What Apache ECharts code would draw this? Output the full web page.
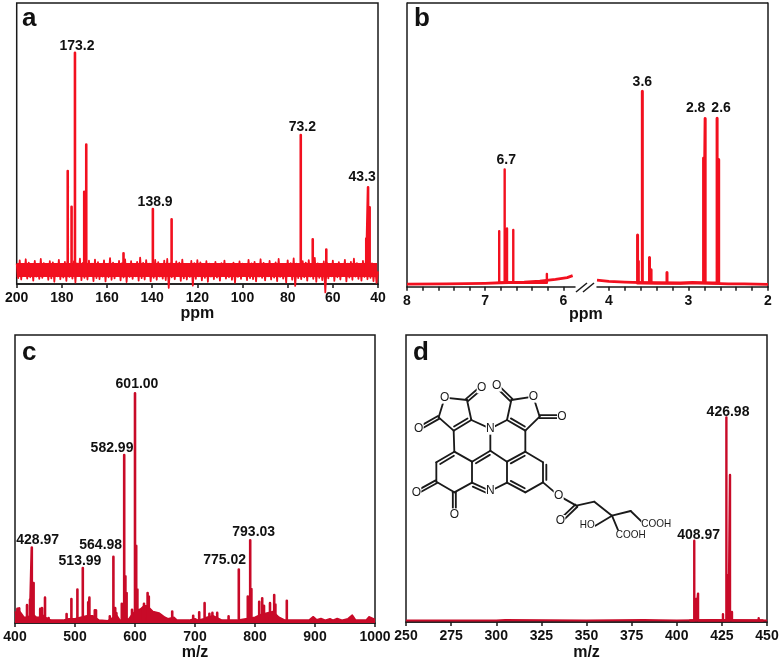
<!DOCTYPE html>
<html>
<head>
<meta charset="utf-8">
<style>
  html, body { margin: 0; padding: 0; background: #fff; }
  #main { width: 784px; height: 660px; }
</style>
<script src="https://cdn.jsdelivr.net/npm/echarts@6/dist/echarts.min.js"></script>
</head>
<body>
<div id="main"></div>
<script>
// panel a: 13C NMR, intensities in % of panel height
const aPeakPpm = [177.4, 175.7, 174.2, 170.1, 169.2, 152.7, 139.7, 131.4, 74.2, 68.9, 62.9, 45.2, 44.4, 43.7];
const aPeakH = [40.2, 27.5, 82.3, 32.8, 49.6, 10.9, 26.7, 23, 53, 15.9, 12.3, 16.2, 34.4, 27.3];
const aNoise = [
  7.2, 2.1, 8.4, 1.6, 6.9, 2.8, 8.8, 1.9, 7.6, 2.4, 6.8, 1.2,
  8.2, 2.6, 7.1, 1.8, 8.9, 2.2, 7.4, 3.0, 6.7, 1.5, 8.1, 2.0,
  7.7, 0.8, 7.0, 2.7, 8.6, 1.7, 6.6, 2.3, 7.9, 1.1, 8.5, 2.5,
  6.9, 1.9, 8.0, 0.6, 7.3, 2.8, 9.0, 1.4, 7.5, 2.2, 6.8, 1.6,
  8.3, 2.9, 7.2, 1.0, 8.7, 2.1, 7.8, 1.7, 6.7, 2.6, 8.4, 0.9,
  7.1, 2.4, 9.2, 1.5, 7.6, 2.0, 6.9, 2.9, 8.2, 1.3, 7.4, 2.3,
  8.8, 0.7, 7.0, 2.5, 8.1, 1.8, 6.8, 2.7, 7.9, 1.2, 9.4, 2.1,
  7.5, 1.6, 8.5, 2.8, 7.2, 0.9, 6.7, 2.2, 8.6, 1.5, 7.8, 2.6,
  7.0, 1.9, 8.3, 1.4, 8.9, -1.4, 7.3, 2.4, 6.8, 1.7, 8.0, 2.9,
  7.6, 1.1, 8.7, 2.0, 7.1, 1.6, 6.9, 2.5, 8.2, -0.6, 7.4, 1.8,
  8.5, 2.7, 7.7, 1.3, 6.6, 2.2, 8.1, 0.8, 7.2, 2.6, 6.9, 1.7,
  7.9, 2.3, 6.7, 1.2, 7.4, 2.8, 8.3, 1.9, 7.0, 2.4, 6.5, 1.5,
  7.6, 0.5, 6.9, 2.5, 8.0, 1.8, 7.2, 2.9, 6.6, 1.4, 8.6, 2.1,
  7.3, 1.7, 7.9, 0.9, 6.8, 2.6, 8.8, 2.2, 7.5, 1.3, 7.0, 2.7,
  8.2, 1.6, 6.7, 2.3, 7.7, 1.0, 8.9, 2.5, 7.1, 1.9, 6.9, 0.6,
  8.4, 2.8, 7.4, 1.5, 9.1, -0.7, 7.2, 2.1, 6.8, 1.7, 8.1, 2.4,
  7.6, 1.2, 8.5, 2.6, 7.0, 1.8, 9.3, 0.8, 7.3, 2.2, 6.6, 1.4,
  8.0, -3.0, 7.5, 2.0, 6.9, 2.7, 8.3, 1.1, 7.1, 2.4, 7.8, 1.6,
  6.7, 2.9, 8.6, 0.9, 7.2, 2.3, 7.9, 1.5, 9.0, 2.6, 7.4, 1.8,
  7.0, 1.2, 8.2, 2.5, 8.8, 1.7, 7.6, 2.2, 7.3, 1.0, 6.8, 0.4, 4.5
];
// solid body of the noise band
const aBandPpm = [200, 160, 120, 80, 40.4];
const aBandH = [5, 5, 5, 5, 5];
const aLabels = [["173.2", 173.3, 84.6], ["138.9", 138.7, 29.1], ["73.2", 73.5, 55.7], ["43.3", 47.0, 38.2]];
const aTicks = [40, 60, 80, 100, 120, 140, 160, 180, 200];

// panel b: 1H NMR, two pieces either side of the axis break
const bLeftPeakPpm = [6.82, 6.75, 6.72, 6.64, 6.21];
const bLeftPeakH = [19.6, 41.3, 20.5, 20, 4.5];
const bLeftBasePpm = [8, 7.5, 7, 6.8, 6.5, 6.3, 6.1, 5.95, 5.88];
const bLeftBaseH = [0.9, 1, 1.2, 1.4, 1.6, 2, 2.6, 3.2, 3.9];
const bRightPeakPpm = [3.64, 3.63, 3.58, 3.49, 3.47, 3.27, 2.81, 2.79, 2.64, 2.62];
const bRightPeakH = [18.2, 9, 68.9, 10.3, 6, 5, 45.4, 59.3, 59.4, 44.8];
const bRightBasePpm = [4.15, 4, 3.8, 3.7, 3.4, 3.1, 2.95, 2.7, 2.5, 2.3, 2];
const bRightBaseH = [2.3, 1.9, 1.6, 1.5, 1.3, 1.2, 1.5, 1.2, 1, 1, 0.8];
const bLabels = [["6.7", 6.73, 44.6]];
const bRightLabels = [["3.6", 3.58, 72.1], ["2.8", 2.91, 63.1], ["2.6", 2.59, 63.1]];
const bLeftTicks = [8, 7.8, 7.6, 7.4, 7.2, 7, 6.8, 6.6, 6.4, 6.2, 6];
const bRightTicks = [4, 3.8, 3.6, 3.4, 3.2, 3, 2.8, 2.6, 2.4, 2.2, 2];

// panel c: mass spectrum
const cPeakMz = [404, 407, 420, 425, 428, 431, 442, 445, 450, 456, 486, 494, 504, 513, 522, 524, 533, 535,
  558, 564, 567, 569, 578, 582, 584, 586, 595, 600, 602, 604, 608, 615, 621, 623, 662,
  697, 707, 716, 724, 729, 737, 756, 773, 788, 792, 794, 807, 812, 815, 825, 832, 834, 853];
const cPeakH = [4.9, 5.1, 6.2, 8.1, 26.2, 13.9, 4.9, 5.2, 8.8, 1.7, 3.1, 8.3, 11.6, 19.1, 7.2, 8.8, 4.4, 4.4,
  2.3, 23, 5.2, 3.5, 6.7, 58.3, 16.2, 10.4, 4.6, 79.8, 26.8, 11.6, 4.6, 6.7, 10.4, 9.2, 4,
  2.5, 3.7, 6.9, 3.2, 3.5, 3.5, 2.3, 18.6, 9.2, 28.7, 11.8, 7.4, 8.6, 6, 6.9, 9.7, 6.4, 7.7];
const cEnvMz = [400, 402, 404, 410, 415, 420, 430, 436, 440, 445, 450, 455, 460, 480, 490, 500, 510, 520, 530, 540, 555,
  560, 570, 575, 590, 595, 600, 606, 610, 615, 620, 625, 630, 640, 650, 655, 665, 670, 690, 700, 705, 715, 720, 730, 740,
  745, 770, 785, 800, 810, 820, 830, 840, 850, 860, 890, 897, 903, 910, 917, 925, 930, 937, 945, 955, 962, 968, 985, 990, 1000];
const cEnvH = [4, 3, 5, 3.5, 2, 2, 3, 2, 2, 3, 2, 1.5, 1, 1, 1.5, 1.5, 2, 2.5, 2.5, 1, 0.8,
  1.5, 2.5, 1, 1.5, 3, 4, 4, 5, 6, 6, 5, 4, 3.5, 2, 1.5, 2, 1, 1, 1.5, 1, 1.5, 2, 2.5, 1.5,
  1, 1, 1.5, 2, 3, 3.5, 4, 2, 1, 1, 1, 2.2, 1.1, 1.6, 1, 1.5, 1, 1.6, 1, 1.5, 2.8, 1, 1, 2.2, 1.2];
const cLabels = [["428.97", 437.8, 28.9], ["513.99", 508.3, 21.6], ["564.98", 542.8, 27.1], ["582.99", 561.7, 60.8],
  ["601.00", 603.3, 82.9], ["775.02", 749.4, 21.7], ["793.03", 797.8, 31.6]];

// panel d: mass spectrum
const dPeakMz = [407, 409.7, 410.7, 411.8, 413, 425.6, 427.5, 428.3, 428.8, 429.5, 430.6, 445.4, 448];
const dPeakH = [0.8, 28.3, 8, 9.9, 0.8, 2.7, 71.3, 16.3, 16.3, 51.2, 3.5, 1.3, 0.6];
const dBaseMz = [250, 300, 305, 350, 382, 390, 400, 420, 450];
const dBaseH = [0.5, 0.5, 0.7, 0.5, 0.7, 0.6, 0.5, 0.7, 0.5];
const dLabels = [["426.98", 428.4, 73.1], ["408.97", 412.1, 30.3]];

const ink = "#1a1a1a";
const nmrRed = "#f2101f";
const msRed = "#c80a28";
const font = "'Liberation Sans', Arial, sans-serif";

// one stem per peak, going back down to the baseline
function stems(xs, hs, base) {
  const out = [];
  xs.forEach((x, i) => {
    out.push([x, base], [x, hs[i]], [x, base]);
  });
  return out;
}

function zip(xs, ys) {
  return xs.map((x, i) => [x, ys[i]]);
}

function lineSeries(idx, data, color, width, extra) {
  return Object.assign({
    type: "line",
    xAxisIndex: idx,
    yAxisIndex: idx,
    data: data,
    symbol: "none",
    animation: false,
    silent: true,
    clip: false,
    sampling: "none",
    lineStyle: { color: color, width: width, join: "round" },
  }, extra || {});
}

function labelSeries(idx, labels) {
  return {
    type: "scatter",
    xAxisIndex: idx,
    yAxisIndex: idx,
    symbolSize: 0,
    animation: false,
    silent: true,
    itemStyle: { opacity: 1 },
    data: labels.map((l) => ({ value: [l[1], l[2]], text: l[0] })),
    label: {
      show: true,
      position: "inside",
      formatter: (p) => p.data.text,
      color: "#111",
      opacity: 1,
      fontFamily: font,
      fontWeight: "bold",
      fontSize: 14,
    },
    z: 5,
  };
}

function xAxisBase(idx, opts) {
  return Object.assign({
    gridIndex: idx,
    type: "value",
    splitLine: { show: false },
    axisLine: { show: true, onZero: false, lineStyle: { color: ink, width: 1.5 } },
    axisTick: { show: true, length: 4, lineStyle: { color: ink, width: 1.5 } },
    axisLabel: { color: "#111", fontFamily: font, fontWeight: "bold", fontSize: 14, margin: 7, formatter: (v) => String(v) },
    nameLocation: "middle",
    nameTextStyle: { color: "#111", fontFamily: font, fontWeight: "bold", fontSize: 16 },
  }, opts);
}

function customLabels(values) {
  return { color: "#111", fontFamily: font, fontWeight: "bold", fontSize: 14, margin: 7, customValues: values, formatter: (v) => String(v) };
}

function customTicks(values) {
  return { show: true, length: 4, lineStyle: { color: ink, width: 1.5 }, customValues: values };
}

function yAxisBase(idx, pos) {
  return {
    gridIndex: idx,
    type: "value",
    min: 0,
    max: 100,
    position: pos,
    splitLine: { show: false },
    axisTick: { show: false },
    axisLabel: { show: false },
    axisLine: { show: !!pos, onZero: false, lineStyle: { color: ink, width: 1.5 } },
  };
}

const frame = { show: true, borderColor: ink, borderWidth: 1.5, backgroundColor: "transparent" };

// structure drawn in zoomed units, group scale brings it back to page pixels
const singleBonds = [
  [158, 203, 225, 210], [158, 203, 140, 262], [140, 262, 185, 302], [225, 210, 238, 270],
  [238, 270, 295, 296], [345, 270, 295, 296], [295, 296, 295, 362],
  [424, 200, 358, 210], [424, 200, 443, 260], [358, 210, 345, 270], [400, 302, 443, 260],
  [185, 302, 187, 365], [400, 302, 400, 365], [295, 362, 345, 395],
  [187, 365, 240, 395], [133, 397, 133, 455], [133, 455, 187, 487], [187, 487, 240, 458],
  [240, 458, 240, 395], [295, 483, 345, 458], [345, 458, 345, 395], [400, 365, 453, 397],
  [453, 457, 400, 487], [453, 457, 500, 497], [500, 497, 553, 527], [553, 527, 607, 515],
  [607, 515, 660, 557], [660, 557, 716, 543], [716, 543, 752, 578], [660, 557, 610, 587], [660, 557, 680, 605],
];
// [x1, y1, x2, y2, side]: side 0 is a centred pair (C=O), +-1 has the second line inside the ring
const doubleBonds = [
  [185, 302, 238, 270, -1], [225, 210, 269, 172, 0], [140, 262, 80, 296, 0],
  [345, 270, 400, 302, -1], [358, 210, 314, 167, 0], [443, 260, 510, 260, 0],
  [295, 362, 240, 395, -1], [187, 365, 133, 397, -1], [133, 455, 73, 488, 0], [187, 487, 187, 553, 0],
  [240, 458, 295, 483, 1], [345, 395, 400, 365, 1], [453, 397, 453, 457, -1], [400, 487, 345, 458, 1],
  [553, 527, 505, 573, 0],
];
const atoms = [
  ["O", 158, 203], ["O", 269, 172], ["O", 80, 296], ["N", 295, 296], ["O", 424, 200], ["O", 314, 167],
  ["O", 510, 260], ["O", 73, 488], ["O", 187, 553], ["N", 295, 483], ["O", 500, 497], ["O", 505, 573],
];
const groups = [["HO", 586, 587], ["COOH", 793, 583], ["COOH", 716, 617]];

function bondLine(x1, y1, x2, y2) {
  return {
    type: "line",
    shape: { x1: x1, y1: y1, x2: x2, y2: y2 },
    style: { stroke: ink, lineWidth: 5.5, lineCap: "round" },
    silent: true,
  };
}

function moleculeChildren() {
  const kids = singleBonds.map((b) => bondLine(b[0], b[1], b[2], b[3]));
  doubleBonds.forEach((b) => {
    const dx = b[2] - b[0], dy = b[3] - b[1];
    const len = Math.sqrt(dx * dx + dy * dy);
    const nx = -dy / len, ny = dx / len;
    if (b[4] === 0) {
      kids.push(bondLine(b[0] + nx * 4.5, b[1] + ny * 4.5, b[2] + nx * 4.5, b[3] + ny * 4.5));
      kids.push(bondLine(b[0] - nx * 4.5, b[1] - ny * 4.5, b[2] - nx * 4.5, b[3] - ny * 4.5));
    } else {
      const o = 10 * b[4];
      kids.push(bondLine(b[0], b[1], b[2], b[3]));
      kids.push(bondLine(b[0] + dx * 0.12 + nx * o, b[1] + dy * 0.12 + ny * o, b[2] - dx * 0.12 + nx * o, b[3] - dy * 0.12 + ny * o));
    }
  });
  atoms.forEach((a) => {
    kids.push({
      type: "text",
      x: a[1],
      y: a[2],
      silent: true,
      style: {
        text: a[0],
        fill: ink,
        font: "36px " + font,
        align: "center",
        verticalAlign: "middle",
        backgroundColor: "#fff",
        padding: [0, 1],
      },
    });
  });
  groups.forEach((g) => {
    kids.push({
      type: "text",
      x: g[1],
      y: g[2],
      silent: true,
      style: {
        text: g[0],
        fill: ink,
        font: "30px " + font,
        align: "center",
        verticalAlign: "middle",
        backgroundColor: "#fff",
      },
    });
  });
  return kids;
}

const letterStyle = { color: "#111", fontFamily: font, fontWeight: "bold", fontSize: 26 };
const noBounds = { outerBoundsMode: "none" };
const options = {
  backgroundColor: "#fff",
  animation: false,
  title: [
    { text: "a", left: 22, top: 6, textStyle: letterStyle, padding: 0 },
    { text: "b", left: 414, top: 6, textStyle: letterStyle, padding: 0 },
    { text: "c", left: 22, top: 340, textStyle: letterStyle, padding: 0 },
    { text: "d", left: 413, top: 340, textStyle: letterStyle, padding: 0 },
    {
      text: "ppm",
      left: 569,
      top: 307,
      padding: 0,
      textStyle: { color: "#111", fontFamily: font, fontWeight: "bold", fontSize: 16 },
    },
  ],
  grid: [
    Object.assign({ left: 16.7, top: 3, width: 361.3, height: 281 }, frame, noBounds),
    Object.assign({ left: 407, top: 3, width: 168, height: 283.7 }, noBounds),
    Object.assign({ left: 597, top: 3, width: 171, height: 283.7 }, noBounds),
    Object.assign({ left: 15, top: 335, width: 360, height: 288 }, frame, noBounds),
    Object.assign({ left: 406, top: 335, width: 361, height: 287 }, frame, noBounds),
  ],
  xAxis: [
    xAxisBase(0, { min: 40, max: 200, inverse: true, interval: 20, name: "ppm", nameGap: 21,
      axisLabel: customLabels(aTicks), axisTick: customTicks(aTicks) }),
    xAxisBase(1, { min: 5.85, max: 8, inverse: true,
      axisLabel: customLabels([8, 7, 6]), axisTick: customTicks(bLeftTicks) }),
    xAxisBase(2, { min: 2, max: 4.15, inverse: true,
      axisLabel: customLabels([4, 3, 2]), axisTick: customTicks(bRightTicks) }),
    xAxisBase(3, { min: 400, max: 1000, interval: 100, name: "m/z", nameGap: 22 }),
    xAxisBase(4, { min: 250, max: 450, interval: 25, name: "m/z", nameGap: 23 }),
  ],
  yAxis: [
    yAxisBase(0),
    yAxisBase(1, "left"),
    yAxisBase(2, "right"),
    yAxisBase(3),
    yAxisBase(4),
  ],
  series: [
    lineSeries(0, zip(aBandPpm, aBandH), nmrRed, 14),
    lineSeries(0, aNoise.map((v, i) => [200 - (i * 2) / 3, v]), nmrRed, 1.8),
    lineSeries(0, stems(aPeakPpm, aPeakH, 3), nmrRed, 2.6),
    labelSeries(0, aLabels),

    lineSeries(1, zip(bLeftBasePpm, bLeftBaseH), nmrRed, 2.8),
    lineSeries(1, stems(bLeftPeakPpm, bLeftPeakH, 1.4), nmrRed, 2.4),
    labelSeries(1, bLabels),
    lineSeries(2, zip(bRightBasePpm, bRightBaseH), nmrRed, 2.8),
    lineSeries(2, stems(bRightPeakPpm, bRightPeakH, 1.3), nmrRed, 3),
    labelSeries(2, bRightLabels),

    lineSeries(3, zip(cEnvMz, cEnvH), msRed, 1.5, { areaStyle: { color: msRed, opacity: 1 } }),
    lineSeries(3, stems(cPeakMz, cPeakH, 0.5), msRed, 2.6),
    labelSeries(3, cLabels),

    lineSeries(4, zip(dBaseMz, dBaseH), msRed, 2),
    lineSeries(4, stems(dPeakMz, dPeakH, 0.5), msRed, 2.4),
    labelSeries(4, dLabels),
  ],
  graphic: [
    // frame top of panel b and the break marks on its axis
    { type: "line", shape: { x1: 407, y1: 3, x2: 768, y2: 3 }, style: { stroke: ink, lineWidth: 1.5 }, silent: true },
    { type: "line", shape: { x1: 576, y1: 292, x2: 587, y2: 283 }, style: { stroke: ink, lineWidth: 1.5 }, silent: true },
    { type: "line", shape: { x1: 583, y1: 292, x2: 594, y2: 283 }, style: { stroke: ink, lineWidth: 1.5 }, silent: true },
    { type: "group", x: 392, y: 330, scaleX: 1 / 3, scaleY: 1 / 3, children: moleculeChildren() },
  ],
};

const chart = echarts.init(document.getElementById("main"), null, { renderer: "canvas" });
chart.setOption(options);
</script>
</body>
</html>
